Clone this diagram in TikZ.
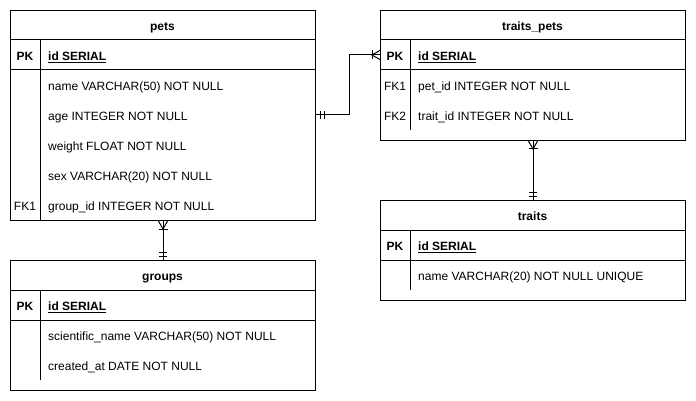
\documentclass[tikz,border=0pt]{standalone}
\usepackage{fontspec}
\setmainfont{Liberation Sans}
\begin{document}
\begin{tikzpicture}[x=1pt,y=-1pt]
\tikzset{
 tbl/.style={draw, line width=1pt, anchor=north west, inner sep=0, fill=white},
 lbl/.style={font=\fontsize{12}{14}\selectfont, inner sep=0, anchor=base west, yshift=-5.3pt},
 ttl/.style={font=\fontsize{12}{14}\selectfont\bfseries, inner sep=0, anchor=base, yshift=-5.3pt},
 keyc/.style={font=\fontsize{12}{14}\selectfont, inner sep=0, anchor=base, yshift=-5.3pt},
 keyb/.style={font=\fontsize{12}{14}\selectfont\bfseries, inner sep=0, anchor=base, yshift=-5.3pt},
 ln/.style={line width=1pt},
}
\useasboundingbox[fill=white] (0,0) rectangle (696,401);

% ---------- pets ----------
\node[tbl, minimum width=305, minimum height=210] (pets) at (10,10) {};
\draw[ln] (10,40) -- (315,40) (10,70) -- (315,70) (40,40) -- (40,220);
\node[ttl] (petsT) at (162.5,25) {pets};
\node[keyb] (petsPK) at (25,55) {PK};
\node[lbl] (petsId) at (48,55) {\bfseries\underline{id SERIAL}};
\node[lbl] (petsName) at (48,85) {name VARCHAR(50) NOT NULL};
\node[lbl] (petsAge) at (48,115) {age INTEGER NOT NULL};
\node[lbl] (petsWeight) at (48,145) {weight FLOAT NOT NULL};
\node[lbl] (petsSex) at (48,175) {sex VARCHAR(20) NOT NULL};
\node[keyc] (petsFK) at (25,205) {FK1};
\node[lbl] (petsGroup) at (48,205) {group\_id INTEGER NOT NULL};

% ---------- groups ----------
\node[tbl, minimum width=305, minimum height=130] (groups) at (10,260) {};
\draw[ln] (10,290) -- (315,290) (10,320) -- (315,320) (40,290) -- (40,380);
\node[ttl] (groupsT) at (162.5,275) {groups};
\node[keyb] (groupsPK) at (25,305) {PK};
\node[lbl] (groupsId) at (48,305) {\bfseries\underline{id SERIAL}};
\node[lbl] (groupsSci) at (48,335) {scientific\_name VARCHAR(50) NOT NULL};
\node[lbl] (groupsCr) at (48,365) {created\_at DATE NOT NULL};

% ---------- traits_pets ----------
\node[tbl, minimum width=305, minimum height=130] (tp) at (380,10) {};
\draw[ln] (380,40) -- (685,40) (380,70) -- (685,70) (410,40) -- (410,130);
\node[ttl] (tpT) at (532.5,25) {traits\_pets};
\node[keyb] (tpPK) at (395,55) {PK};
\node[lbl] (tpId) at (418,55) {\bfseries\underline{id SERIAL}};
\node[keyc] (tpFK1) at (395,85) {FK1};
\node[lbl] (tpPet) at (418,85) {pet\_id INTEGER NOT NULL};
\node[keyc] (tpFK2) at (395,115) {FK2};
\node[lbl] (tpTrait) at (418,115) {trait\_id INTEGER NOT NULL};

% ---------- traits ----------
\node[tbl, minimum width=305, minimum height=100] (traits) at (380,200) {};
\draw[ln] (380,230) -- (685,230) (380,260) -- (685,260) (410,230) -- (410,290);
\node[ttl] (trT) at (532.5,215) {traits};
\node[keyb] (trPK) at (395,245) {PK};
\node[lbl] (trId) at (418,245) {\bfseries\underline{id SERIAL}};
\node[lbl] (trName) at (418,275) {name VARCHAR(20) NOT NULL UNIQUE};

% ---------- connectors ----------
% pets.age -> traits_pets.id
\coordinate (a1) at (pets.east |- 0,115);
\coordinate (a2) at (tp.west |- 0,55);
\draw[ln] (a1) -- ++(33,0) |- (a2);
\draw[ln] ([xshift=4]a1) ++(0,-4) -- ++(0,8);
\draw[ln] ([xshift=8]a1) ++(0,-4) -- ++(0,8);
\draw[ln] ([yshift=-4.5]a2) -- ([xshift=-8]a2) -- ([yshift=4.5]a2);
\draw[ln] ([xshift=-8]a2) ++(0,-4.5) -- ++(0,9);

% groups -> pets
\coordinate (b1) at (163,0 |- pets.south);
\coordinate (b2) at (163,0 |- groups.north);
\draw[ln] (b1) -- (b2);
\draw[ln] ([xshift=-4.5]b1) -- ([yshift=-8]b1) -- ([xshift=4.5]b1);
\draw[ln] ([yshift=-8]b1) ++(-4.5,0) -- ++(9,0);
\draw[ln] ([yshift=4]b2) ++(-4,0) -- ++(8,0);
\draw[ln] ([yshift=8]b2) ++(-4,0) -- ++(8,0);

% traits -> traits_pets
\coordinate (c1) at (533,0 |- tp.south);
\coordinate (c2) at (533,0 |- traits.north);
\draw[ln] (c1) -- (c2);
\draw[ln] ([xshift=-4.5]c1) -- ([yshift=-8]c1) -- ([xshift=4.5]c1);
\draw[ln] ([yshift=-8]c1) ++(-4.5,0) -- ++(9,0);
\draw[ln] ([yshift=4]c2) ++(-4,0) -- ++(8,0);
\draw[ln] ([yshift=8]c2) ++(-4,0) -- ++(8,0);
\end{tikzpicture}
\end{document}
